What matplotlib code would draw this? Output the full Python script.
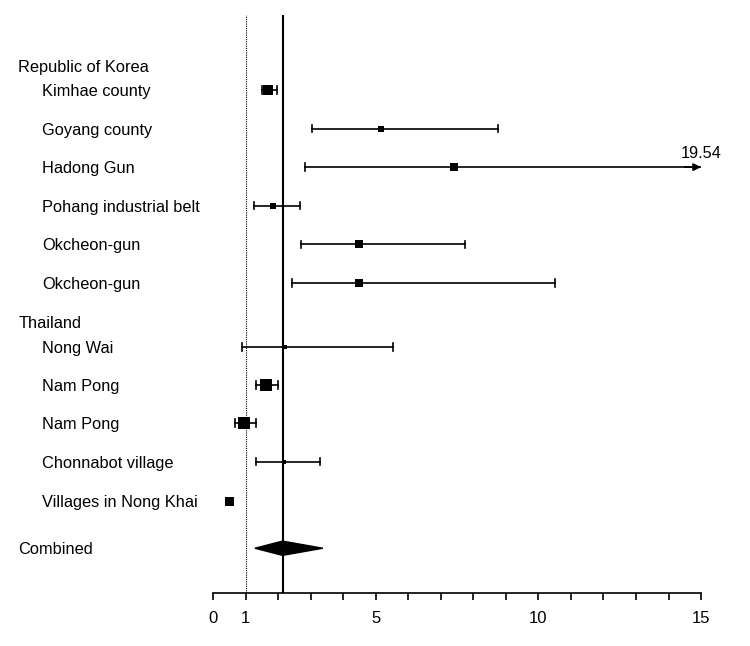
import numpy as np
import matplotlib.pyplot as plt

plt.rcParams['font.family'] = ['Liberation Sans', 'DejaVu Sans']

# study rows: label, group, estimate, lower, upper
groups = ['Republic of Korea', 'Thailand']
korea_labels = ['Kimhae county', 'Goyang county', 'Hadong Gun',
                'Pohang industrial belt', 'Okcheon-gun', 'Okcheon-gun']
korea_est = [1.69, 5.15, 7.41, 1.84, 4.48, 4.48]
korea_lo = [1.49, 3.03, 2.83, 1.26, 2.69, 2.43]
korea_hi = [1.96, 8.75, 19.54, 2.68, 7.74, 10.50]
korea_wt = [10, 6, 8, 5.5, 8, 8]

thai_labels = ['Nong Wai', 'Nam Pong', 'Nam Pong', 'Chonnabot village',
               'Villages in Nong Khai']
thai_est = [2.21, 1.62, 0.93, 2.18, 0.47]
thai_lo = [0.88, 1.30, 0.66, 1.32, np.nan]
thai_hi = [5.53, 2.00, 1.32, 3.28, np.nan]
thai_wt = [5, 12, 12, 5, 9]

combined_est = 2.13
combined_lo = 1.28
combined_hi = 3.37

xmax = 15
fs = 11.8

fig = plt.figure(figsize=(7.5, 6.46), dpi=100)
ax = fig.add_axes([0.2844, 0.082, 0.6503, 0.8948])

# vertical positions (in row units)
korea_y = np.arange(len(korea_labels))
thai_y = 6.66 + np.array([0, 0.985, 1.97, 2.97, 3.98])
korea_head_y = -0.62
thai_head_y = 6.01
comb_y = 11.87
cap = 0.095


def draw_rows(ys, est, lo, hi, wt):
    for y, e, l, h, w in zip(ys, est, lo, hi, wt):
        if not np.isnan(l):
            hh = min(h, xmax)
            ax.plot([l, hh], [y, y], color='black', lw=1.2, zorder=2)
            ax.plot([l, l], [y - cap, y + cap], color='black', lw=1.2, zorder=2)
            if h > xmax:
                ax.annotate('', xy=(xmax, y), xytext=(xmax - 0.5, y),
                            arrowprops=dict(arrowstyle='-|>', color='black',
                                            lw=1.2, mutation_scale=11,
                                            shrinkA=0, shrinkB=0))
                ax.text(xmax, y - 0.17, f'{h:.2f}', ha='center', va='bottom',
                        fontsize=fs)
            else:
                ax.plot([h, h], [y - cap, y + cap], color='black', lw=1.2, zorder=2)
        # marker size given in pixels -> points
        ax.plot(e, y, marker='s', color='black', ms=w * 0.72, mew=0, zorder=3)


draw_rows(korea_y, korea_est, korea_lo, korea_hi, korea_wt)
draw_rows(thai_y, thai_est, thai_lo, thai_hi, thai_wt)

# combined diamond
ax.fill([combined_lo, combined_est, combined_hi, combined_est],
        [comb_y, comb_y - 0.185, comb_y, comb_y + 0.185],
        color='black', zorder=3)

# reference lines
ax.axvline(1, color='black', lw=0.8, ls=(0, (1, 1)), zorder=1)
ax.axvline(combined_est, color='black', lw=1.5, zorder=1)

# labels on the left
lab_x_group = -6.0
lab_x_study = -5.27
ax.text(lab_x_group, korea_head_y, groups[0], ha='left', va='center_baseline', fontsize=fs)
ax.text(lab_x_group, thai_head_y, groups[1], ha='left', va='center_baseline', fontsize=fs)
for y, t in zip(korea_y, korea_labels):
    ax.text(lab_x_study, y, t, ha='left', va='center_baseline', fontsize=fs)
for y, t in zip(thai_y, thai_labels):
    ax.text(lab_x_study, y, t, ha='left', va='center_baseline', fontsize=fs)
ax.text(lab_x_group, comb_y, 'Combined', ha='left', va='center_baseline', fontsize=fs)

ax.set_xlim(0, xmax)
ax.set_ylim(13.03, -1.94)
for s in ['top', 'right', 'left']:
    ax.spines[s].set_visible(False)
ax.spines['bottom'].set_linewidth(1.2)
ax.set_yticks([])
ax.set_xticks(np.arange(0, 16))
ax.set_xticklabels([str(i) if i in (0, 1, 5, 10, 15) else '' for i in range(16)],
                   fontsize=12)
ax.tick_params(axis='x', length=5, width=1.2, pad=8)

fig.savefig('out.png', dpi=100)
